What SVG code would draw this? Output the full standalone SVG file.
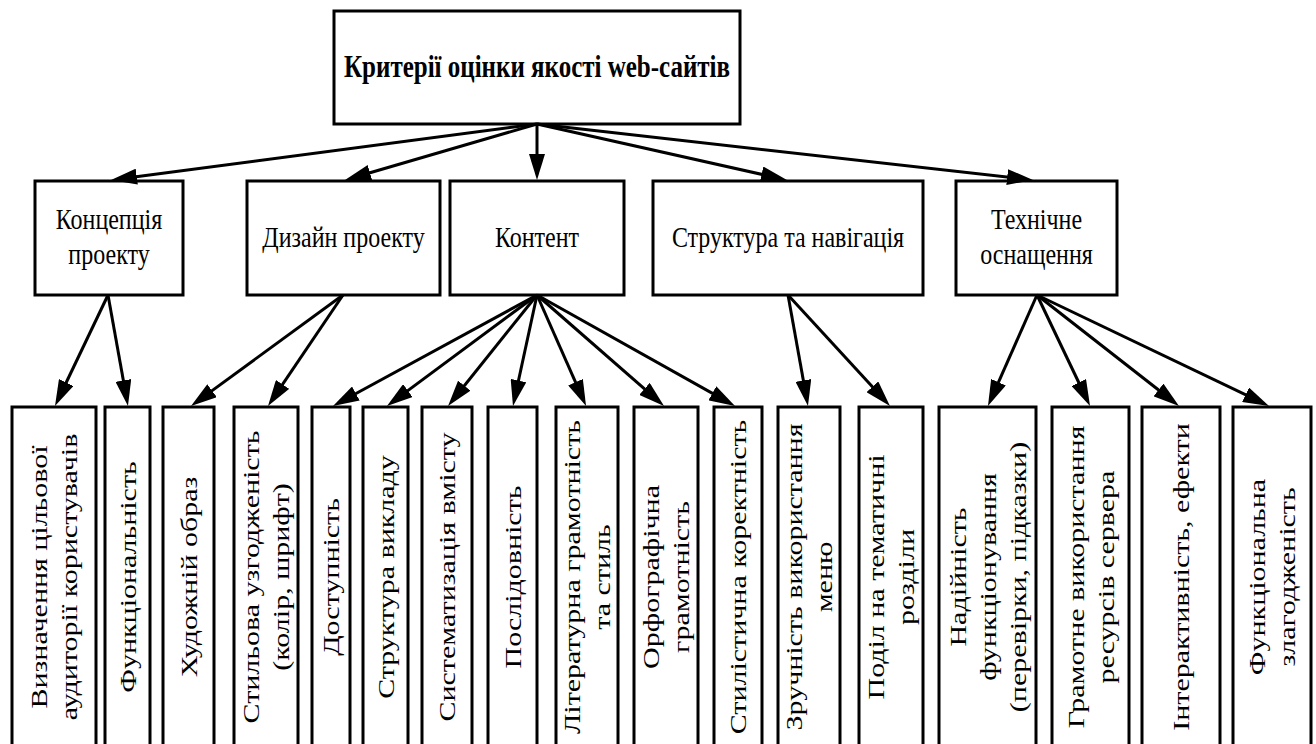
<svg xmlns="http://www.w3.org/2000/svg" width="1316" height="744" viewBox="0 0 1316 744">
<style>
.box{fill:#fff;stroke:#000;stroke-width:3}
.t{font-family:"Liberation Serif","Times New Roman",serif;font-size:24px;fill:#000;text-anchor:middle}
.tb{font-family:"Liberation Serif","Times New Roman",serif;font-size:25px;font-weight:bold;fill:#000;text-anchor:middle}
.c line{stroke:#000;stroke-width:3;marker-end:url(#ah)}
</style>
<defs>
<marker id="ah" markerUnits="userSpaceOnUse" markerWidth="26" markerHeight="16" refX="16" refY="8" orient="auto">
<path d="M0,0 L26,8 L0,16 z" fill="#000"/>
</marker>
</defs>
<rect width="1316" height="744" fill="#fff"/>
<g id="root"><rect class="box" x="334" y="11" width="406" height="113"/><text class="tb" transform="translate(537,77) scale(1,1.25)">Критерії оцінки якості web-сайтів</text></g>
<g id="m1"><rect class="box" x="35" y="181" width="148" height="114"/><text class="t" transform="translate(109,229) scale(1,1.25)">Концепція</text><text class="t" transform="translate(109,264) scale(1,1.25)">проекту</text></g>
<g id="m2"><rect class="box" x="247" y="181" width="193" height="114"/><text class="t" transform="translate(343.5,247) scale(1,1.25)">Дизайн проекту</text></g>
<g id="m3"><rect class="box" x="450" y="181" width="174" height="114"/><text class="t" transform="translate(537,247) scale(1,1.25)">Контент</text></g>
<g id="m4"><rect class="box" x="653" y="181" width="270" height="114"/><text class="t" transform="translate(788,247) scale(1,1.25)">Структура та навігація</text></g>
<g id="m5"><rect class="box" x="956" y="181" width="161" height="114"/><text class="t" transform="translate(1036.5,229) scale(1,1.25)">Технічне</text><text class="t" transform="translate(1036.5,264) scale(1,1.25)">оснащення</text></g>
<g id="b1"><rect class="box" x="12" y="407" width="84" height="339"/><text class="t" transform="translate(47,577) scale(1,1.25) rotate(-90)">Визначення цільової</text><text class="t" transform="translate(77,577) scale(1,1.25) rotate(-90)">аудиторії користувачів</text></g>
<g id="b2"><rect class="box" x="105" y="407" width="45" height="339"/><text class="t" transform="translate(135.5,577) scale(1,1.25) rotate(-90)">Функціональність</text></g>
<g id="b3"><rect class="box" x="163" y="407" width="51" height="339"/><text class="t" transform="translate(196.5,577) scale(1,1.25) rotate(-90)">Художній образ</text></g>
<g id="b4"><rect class="box" x="234" y="407" width="64" height="339"/><text class="t" transform="translate(259,577) scale(1,1.25) rotate(-90)">Стильова узгодженість</text><text class="t" transform="translate(289,577) scale(1,1.25) rotate(-90)">(колір, шрифт)</text></g>
<g id="b5"><rect class="box" x="312" y="407" width="38" height="339"/><text class="t" transform="translate(339,577) scale(1,1.25) rotate(-90)">Доступність</text></g>
<g id="b6"><rect class="box" x="363" y="407" width="45" height="339"/><text class="t" transform="translate(393.5,577) scale(1,1.25) rotate(-90)">Структура викладу</text></g>
<g id="b7"><rect class="box" x="422" y="407" width="50" height="339"/><text class="t" transform="translate(455,577) scale(1,1.25) rotate(-90)">Систематизація вмісту</text></g>
<g id="b8"><rect class="box" x="488" y="407" width="49" height="339"/><text class="t" transform="translate(520.5,577) scale(1,1.25) rotate(-90)">Послідовність</text></g>
<g id="b9"><rect class="box" x="556" y="407" width="62" height="339"/><text class="t" transform="translate(580,577) scale(1,1.25) rotate(-90)">Літературна грамотність</text><text class="t" transform="translate(610,577) scale(1,1.25) rotate(-90)">та стиль</text></g>
<g id="b10"><rect class="box" x="634" y="407" width="64" height="339"/><text class="t" transform="translate(659,577) scale(1,1.25) rotate(-90)">Орфографічна</text><text class="t" transform="translate(689,577) scale(1,1.25) rotate(-90)">грамотність</text></g>
<g id="b11"><rect class="box" x="714" y="407" width="48" height="339"/><text class="t" transform="translate(746,577) scale(1,1.25) rotate(-90)">Стилістична коректність</text></g>
<g id="b12"><rect class="box" x="778" y="407" width="62" height="339"/><text class="t" transform="translate(802,577) scale(1,1.25) rotate(-90)">Зручність використання</text><text class="t" transform="translate(832,577) scale(1,1.25) rotate(-90)">меню</text></g>
<g id="b13"><rect class="box" x="859" y="407" width="64" height="339"/><text class="t" transform="translate(884,577) scale(1,1.25) rotate(-90)">Поділ на тематичні</text><text class="t" transform="translate(914,577) scale(1,1.25) rotate(-90)">розділи</text></g>
<g id="b14"><rect class="box" x="939" y="407" width="97" height="339"/><text class="t" transform="translate(966,577) scale(1,1.25) rotate(-90)">Надійність</text><text class="t" transform="translate(996,577) scale(1,1.25) rotate(-90)">функціонування</text><text class="t" transform="translate(1026,577) scale(1,1.25) rotate(-90)">(перевірки, підказки)</text></g>
<g id="b15"><rect class="box" x="1052" y="407" width="77" height="339"/><text class="t" transform="translate(1083.5,577) scale(1,1.25) rotate(-90)">Грамотне використання</text><text class="t" transform="translate(1113.5,577) scale(1,1.25) rotate(-90)">ресурсів сервера</text></g>
<g id="b16"><rect class="box" x="1142" y="407" width="78" height="339"/><text class="t" transform="translate(1189,577) scale(1,1.25) rotate(-90)">Інтерактивність, ефекти</text></g>
<g id="b17"><rect class="box" x="1233" y="407" width="78" height="339"/><text class="t" transform="translate(1265,577) scale(1,1.25) rotate(-90)">Функціональна</text><text class="t" transform="translate(1295,577) scale(1,1.25) rotate(-90)">злагодженість</text></g>
<g id="connectors" class="c">
<line x1="537" y1="124" x2="120.9" y2="178.7"/>
<line x1="537" y1="124" x2="354.6" y2="177.2"/>
<line x1="537" y1="124" x2="537" y2="170"/>
<line x1="537" y1="124" x2="777.2" y2="177.8"/>
<line x1="537" y1="124" x2="1023.1" y2="178.9"/>
<line x1="108" y1="295" x2="59.3" y2="397"/>
<line x1="108" y1="295" x2="126.2" y2="396.2"/>
<line x1="343" y1="295" x2="199.1" y2="400.1"/>
<line x1="343" y1="295" x2="273.6" y2="397.7"/>
<line x1="537" y1="295" x2="341.8" y2="401.2"/>
<line x1="537" y1="295" x2="395" y2="400.1"/>
<line x1="537" y1="295" x2="454.3" y2="398.2"/>
<line x1="537" y1="295" x2="515.1" y2="396.2"/>
<line x1="537" y1="295" x2="582" y2="396.8"/>
<line x1="537" y1="295" x2="656.5" y2="399.4"/>
<line x1="537" y1="295" x2="726.3" y2="401.1"/>
<line x1="788" y1="295" x2="806.2" y2="396.2"/>
<line x1="788" y1="295" x2="883.2" y2="398.6"/>
<line x1="1037" y1="295" x2="992" y2="396.8"/>
<line x1="1037" y1="295" x2="1085.7" y2="397"/>
<line x1="1037" y1="295" x2="1171.1" y2="399.8"/>
<line x1="1037" y1="295" x2="1260" y2="401.7"/>
</g>
</svg>
